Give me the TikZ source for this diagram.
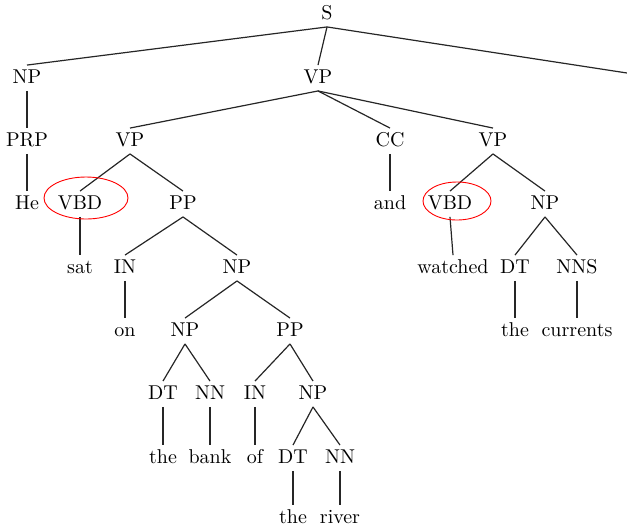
\documentclass[tikz,border=0pt]{standalone}
\begin{document}
\begin{tikzpicture}[x=0.5pt,y=-0.5pt,
  lab/.style={inner sep=2.5pt,text height=1.55ex,text depth=0.2ex,font=\normalsize},
  br/.style={line width=0.6pt,draw=black!85},
  redring/.style={draw=red,line width=0.45pt}]
\useasboundingbox (0,0) rectangle (627,527);
% nodes
\node[lab] (S) at (327,14) {S};
\node[lab] (np1) at (27,78) {NP};
\node[lab] (vp0) at (318,78) {VP};
\coordinate (cut) at (627,73);
\node[lab] (prp) at (27,141) {PRP};
\node[lab] (vp1) at (130,141) {VP};
\node[lab] (cc) at (390,141) {CC};
\node[lab] (vp2) at (493,141) {VP};
\node[lab] (he) at (27,204) {He};
\node[lab] (vbd1) at (80,204) {VBD};
\node[lab] (pp1) at (183,204) {PP};
\node[lab] (and) at (390,204) {and};
\node[lab] (vbd2) at (450,204) {VBD};
\node[lab] (np2) at (545,204) {NP};
\node[lab] (sat) at (80,268) {sat};
\node[lab] (in1) at (125,268) {IN};
\node[lab] (np3) at (237,268) {NP};
\node[lab] (watched) at (453,268) {watched};
\node[lab] (dt1) at (515,268) {DT};
\node[lab] (nns) at (577,268) {NNS};
\node[lab] (on) at (125,331) {on};
\node[lab] (np4) at (185,331) {NP};
\node[lab] (pp2) at (290,331) {PP};
\node[lab] (the1) at (515,331) {the};
\node[lab] (currents) at (577,331) {currents};
\node[lab] (dt2) at (163,394) {DT};
\node[lab] (nn1) at (210,394) {NN};
\node[lab] (in2) at (255,394) {IN};
\node[lab] (np5) at (313,394) {NP};
\node[lab] (the2) at (163,458) {the};
\node[lab] (bank) at (210,458) {bank};
\node[lab] (of) at (255,458) {of};
\node[lab] (dt3) at (293,458) {DT};
\node[lab] (nn2) at (340,458) {NN};
\node[lab] (the3) at (293,518) {the};
\node[lab] (river) at (340,518) {river};
% branches
\foreach \p/\c in {S/np1,S/vp0,np1/prp,prp/he,vp0/vp1,vp0/cc,vp0/vp2,
  vp1/vbd1,vp1/pp1,cc/and,vp2/vbd2,vp2/np2,vbd1/sat,pp1/in1,pp1/np3,
  vbd2/watched,np2/dt1,np2/nns,in1/on,np3/np4,np3/pp2,dt1/the1,nns/currents,
  np4/dt2,np4/nn1,pp2/in2,pp2/np5,dt2/the2,nn1/bank,in2/of,np5/dt3,np5/nn2,
  dt3/the3,nn2/river}
  \draw[br] (\p.south) -- (\c.north);
\draw[br] (S.south) -- (cut);
% marks
\draw[redring] (86,198) ellipse [x radius=42, y radius=21];
\draw[redring] (457,201) ellipse [x radius=34, y radius=19];
\end{tikzpicture}
\end{document}
